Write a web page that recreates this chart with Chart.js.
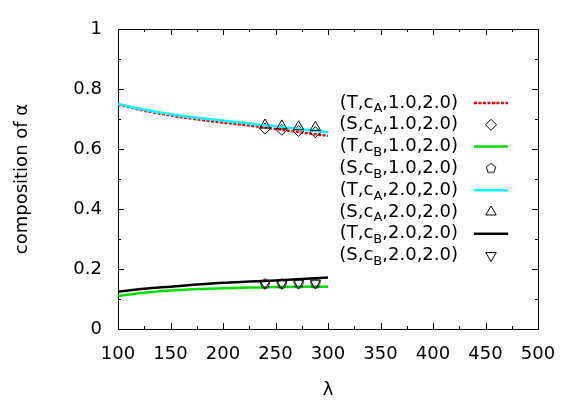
<!DOCTYPE html>
<html>
<head>
<meta charset="utf-8">
<script src="https://cdn.jsdelivr.net/npm/chart.js@4/dist/chart.umd.min.js"></script>
<style>body{margin:0;background:#fff}</style>
</head>
<body>
<canvas id="chart" width="581" height="407"></canvas>
<script>
// theory curves
const lambdaCurve = [100, 125, 150, 175, 200, 225, 250, 275, 300];
const curveA1 = [0.748, 0.728, 0.712, 0.699, 0.688, 0.678, 0.667, 0.655, 0.644];
const curveB1 = [0.110, 0.121, 0.128, 0.133, 0.136, 0.138, 0.140, 0.141, 0.141];
const curveA2 = [0.750, 0.731, 0.716, 0.704, 0.694, 0.685, 0.676, 0.666, 0.656];
const curveB2 = [0.124, 0.134, 0.141, 0.148, 0.154, 0.158, 0.162, 0.167, 0.172];
// simulation points
const lambdaSim = [240, 256, 272, 288];
const simA1 = [0.668, 0.664, 0.660, 0.656];
const simB1 = [0.151, 0.151, 0.152, 0.152];
const simA2 = [0.680, 0.677, 0.674, 0.672];
const simB2 = [0.152, 0.152, 0.153, 0.153];

const xTicks = [100, 150, 200, 250, 300, 350, 400, 450, 500];
const yTicks = [0, 0.2, 0.4, 0.6, 0.8, 1];
const legendNames = [
  ['T', 'A', '1.0,2.0'], ['S', 'A', '1.0,2.0'],
  ['T', 'B', '1.0,2.0'], ['S', 'B', '1.0,2.0'],
  ['T', 'A', '2.0,2.0'], ['S', 'A', '2.0,2.0'],
  ['T', 'B', '2.0,2.0'], ['S', 'B', '2.0,2.0']
];

const FONT = 'DejaVu Sans, sans-serif';

function pts(xs, ys) {
  return xs.map((x, i) => ({ x: x, y: ys[i] }));
}

function pentagonImg(r) {
  const c = document.createElement('canvas');
  const s = Math.ceil(2 * r + 4);
  c.width = s; c.height = s;
  const g = c.getContext('2d');
  g.strokeStyle = '#000';
  g.lineWidth = 1;
  g.beginPath();
  for (let i = 0; i < 5; i++) {
    const a = -Math.PI / 2 + i * 2 * Math.PI / 5;
    const px = s / 2 + r * Math.cos(a), py = s / 2 + r * Math.sin(a);
    if (i) g.lineTo(px, py); else g.moveTo(px, py);
  }
  g.closePath();
  g.stroke();
  return c;
}
const pent = pentagonImg(5);

function lineSet(data, color, width, dash, order) {
  return {
    data: data, borderColor: color, borderWidth: width, borderDash: dash,
    showLine: true, pointRadius: 0, fill: false, order: order,
    cubicInterpolationMode: 'monotone'
  };
}
function pointSet(data, style, rot, order) {
  return {
    data: data, showLine: false, pointStyle: style, pointRotation: rot,
    pointRadius: style === 'triangle' ? 6 : 5.5, borderColor: '#000', borderWidth: 1,
    backgroundColor: 'rgba(0,0,0,0)', order: order
  };
}

const datasets = [
  lineSet(pts(lambdaCurve, curveA1), '#ff0000', 2.5, [3, 1.5], 8),
  pointSet(pts(lambdaSim, simA1), 'rectRot', 0, 7),
  lineSet(pts(lambdaCurve, curveB1), '#00e000', 2.5, [], 6),
  pointSet(pts(lambdaSim, simB1), pent, 0, 5),
  lineSet(pts(lambdaCurve, curveA2), '#00ffff', 2.5, [], 4),
  pointSet(pts(lambdaSim, simA2), 'triangle', 0, 3),
  lineSet(pts(lambdaCurve, curveB2), '#000000', 2.5, [], 2),
  pointSet(pts(lambdaSim, simB2), 'triangle', 180, 1)
];

// frame with inward ticks on all sides, like gnuplot
const framePlugin = {
  id: 'frame',
  beforeDatasetsDraw(chart) {
    const ctx = chart.ctx, a = chart.chartArea;
    const xs = chart.scales.x, ys = chart.scales.y;
    ctx.save();
    ctx.strokeStyle = '#000';
    ctx.lineWidth = 1;
    ctx.beginPath();
    for (let v = 100; v <= 500; v += 25) {
      const p = Math.round(xs.getPixelForValue(v)) + 0.5;
      const len = v % 50 === 0 ? 6 : 3;
      ctx.moveTo(p, a.bottom); ctx.lineTo(p, a.bottom - len);
      ctx.moveTo(p, a.top); ctx.lineTo(p, a.top + len);
    }
    for (let k = 0; k <= 10; k++) {
      const p = Math.round(ys.getPixelForValue(k / 10)) + 0.5;
      const len = k % 2 === 0 ? 6 : 3;
      ctx.moveTo(a.left, p); ctx.lineTo(a.left + len, p);
      ctx.moveTo(a.right, p); ctx.lineTo(a.right - len, p);
    }
    ctx.stroke();
    ctx.strokeRect(Math.round(a.left) + 0.5, Math.round(a.top) + 0.5,
      Math.round(a.right - a.left), Math.round(a.bottom - a.top));
    ctx.restore();
  }
};

function drawSymbol(ctx, i, x, y) {
  ctx.beginPath();
  if (i === 1) {
    const r = 5.5;
    ctx.moveTo(x, y - r); ctx.lineTo(x + r, y); ctx.lineTo(x, y + r); ctx.lineTo(x - r, y);
    ctx.closePath(); ctx.stroke();
  } else if (i === 3) {
    ctx.drawImage(pent, x - pent.width / 2, y - pent.height / 2);
  } else if (i === 5 || i === 7) {
    const r = 6, s = i === 5 ? 1 : -1;
    ctx.moveTo(x, y - s * r); ctx.lineTo(x + r * 0.87, y + s * r * 0.5);
    ctx.lineTo(x - r * 0.87, y + s * r * 0.5);
    ctx.closePath(); ctx.stroke();
  }
}

const legendPlugin = {
  id: 'keybox',
  afterDraw(chart) {
    const ctx = chart.ctx;
    const right = 458, y0 = 103, step = 21.8;
    ctx.save();
    legendNames.forEach((n, i) => {
      const y = y0 + i * step;
      const pre = '(' + n[0] + ',c', sub = n[1], post = ',' + n[2] + ')';
      ctx.textBaseline = 'middle';
      ctx.fillStyle = '#000';
      ctx.font = '18px ' + FONT;
      const wPost = ctx.measureText(post).width;
      const wPre = ctx.measureText(pre).width;
      ctx.font = '13px ' + FONT;
      const wSub = ctx.measureText(sub).width;
      let x = right - wPost - wSub - wPre;
      ctx.font = '18px ' + FONT;
      ctx.fillText(pre, x, y);
      ctx.font = '13px ' + FONT;
      ctx.fillText(sub, x + wPre, y + 6);
      ctx.font = '18px ' + FONT;
      ctx.fillText(post, x + wPre + wSub, y);
      const ds = chart.data.datasets[i];
      ctx.strokeStyle = ds.borderColor;
      ctx.lineWidth = ds.showLine ? ds.borderWidth : 1;
      if (ds.showLine) {
        ctx.setLineDash(ds.borderDash || []);
        ctx.beginPath();
        ctx.moveTo(474, y); ctx.lineTo(508, y);
        ctx.stroke();
        ctx.setLineDash([]);
      } else {
        drawSymbol(ctx, i, 491, y);
      }
    });
    ctx.restore();
  }
};

new Chart(document.getElementById('chart'), {
  type: 'scatter',
  data: { datasets: datasets },
  options: {
    responsive: false,
    animation: false,
    layout: { padding: { left: 0, right: 43, top: 29, bottom: 0 } },
    plugins: { legend: { display: false }, tooltip: { enabled: false } },
    scales: {
      x: {
        type: 'linear', min: 100, max: 500,
        afterBuildTicks: s => { s.ticks = xTicks.map(v => ({ value: v })); },
        afterFit: s => { s.height = 78; },
        grid: { display: false, drawTicks: false },
        border: { display: false },
        ticks: { color: '#000', font: { family: FONT, size: 18 }, padding: 15, maxRotation: 0 },
        title: { display: true, text: 'λ', color: '#000', font: { family: FONT, size: 18 }, padding: { top: 6, bottom: 6 } }
      },
      y: {
        type: 'linear', min: 0, max: 1,
        afterBuildTicks: s => { s.ticks = yTicks.map(v => ({ value: v })); },
        afterFit: s => { s.width = 118; },
        grid: { display: false, drawTicks: false },
        border: { display: false },
        ticks: { color: '#000', font: { family: FONT, size: 18 }, padding: 16, callback: v => String(v) },
        title: { display: true, text: 'composition of α', color: '#000', font: { family: FONT, size: 18 }, padding: { top: 12, bottom: 6 } }
      }
    }
  },
  plugins: [framePlugin, legendPlugin]
});
</script>
</body>
</html>
